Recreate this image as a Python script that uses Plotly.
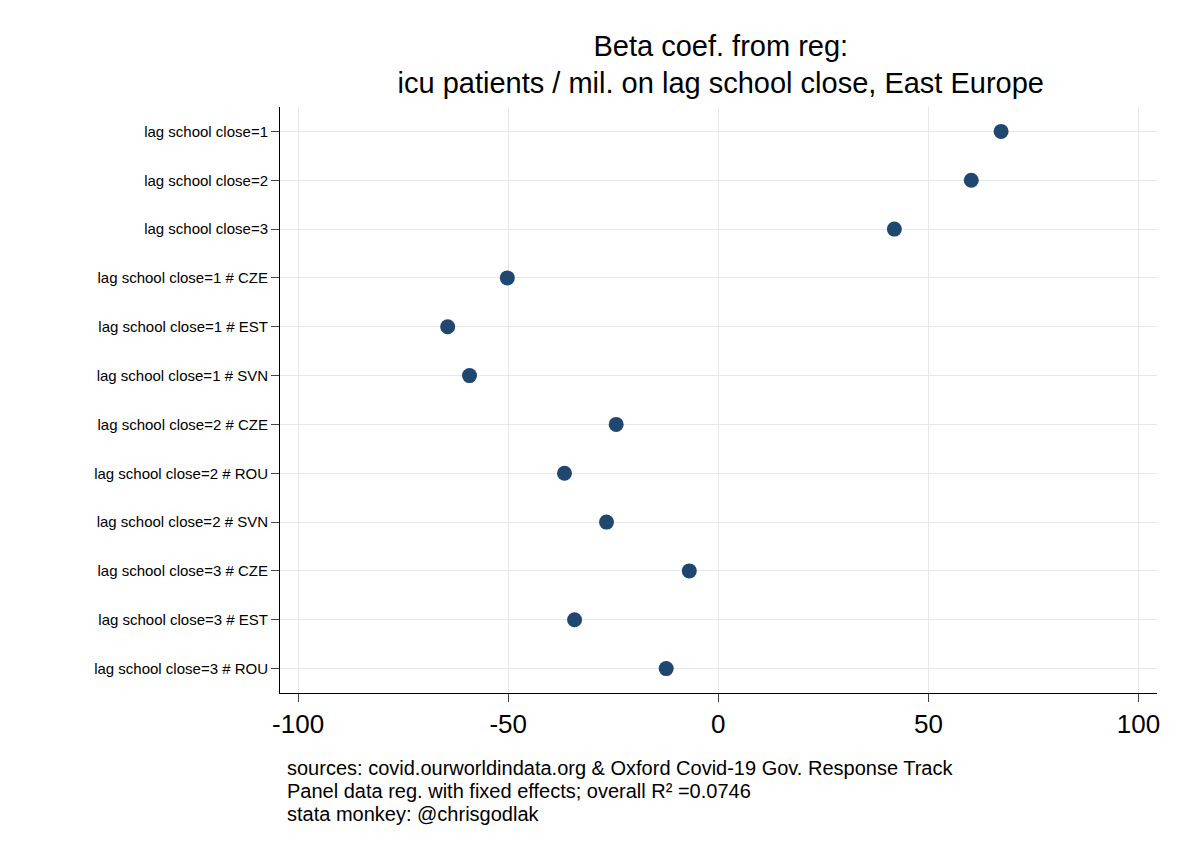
import plotly.graph_objects as go

labels = ["lag school close=1", "lag school close=2", "lag school close=3",
          "lag school close=1 # CZE", "lag school close=1 # EST", "lag school close=1 # SVN",
          "lag school close=2 # CZE", "lag school close=2 # ROU", "lag school close=2 # SVN",
          "lag school close=3 # CZE", "lag school close=3 # EST", "lag school close=3 # ROU"]
coefs = [67.3, 60.2, 41.9, -50.2, -64.4, -59.2, -24.3, -36.6, -26.6, -6.9, -34.2, -12.4]
xticks = [-100, -50, 0, 50, 100]

fig = go.Figure(go.Scatter(
    x=coefs, y=labels, mode="markers",
    marker=dict(color="#1f4770", size=15),
))

fig.update_layout(
    width=1188, height=864,
    margin=dict(l=272, r=39, t=99, b=179),
    paper_bgcolor="white", plot_bgcolor="white",
    font=dict(family="Liberation Sans, Arial", color="black"),
    showlegend=False,
    title=dict(text="Beta coef. from reg:<br>icu patients / mil. on lag school close, East Europe",
               x=0.6, xanchor="center", y=0.945, yanchor="top", font=dict(size=29)),
)
fig.update_xaxes(range=[-104.3, 104.4], tickvals=xticks, ticktext=[str(t) for t in xticks],
                 tickfont=dict(size=26), showgrid=True, gridcolor="#e8e8e8",
                 showline=True, linecolor="black", ticks="outside", ticklen=8, zeroline=False)
fig.update_yaxes(categoryorder="array", categoryarray=labels, range=[11.5, -0.5],
                 tickfont=dict(size=15), showgrid=True, gridcolor="#e8e8e8",
                 showline=True, linecolor="black", ticks="outside", ticklen=8)

notes = ["sources: covid.ourworldindata.org & Oxford Covid-19 Gov. Response Track",
         "Panel data reg. with fixed effects; overall R² =0.0746",
         "stata monkey: @chrisgodlak"]
for i, t in enumerate(notes):
    fig.add_annotation(text=t, xref="paper", yref="paper", x=0.006, y=-0.128 - i * 0.0395,
                       xanchor="left", yanchor="middle", showarrow=False, font=dict(size=20))

fig.write_html("out.html")
